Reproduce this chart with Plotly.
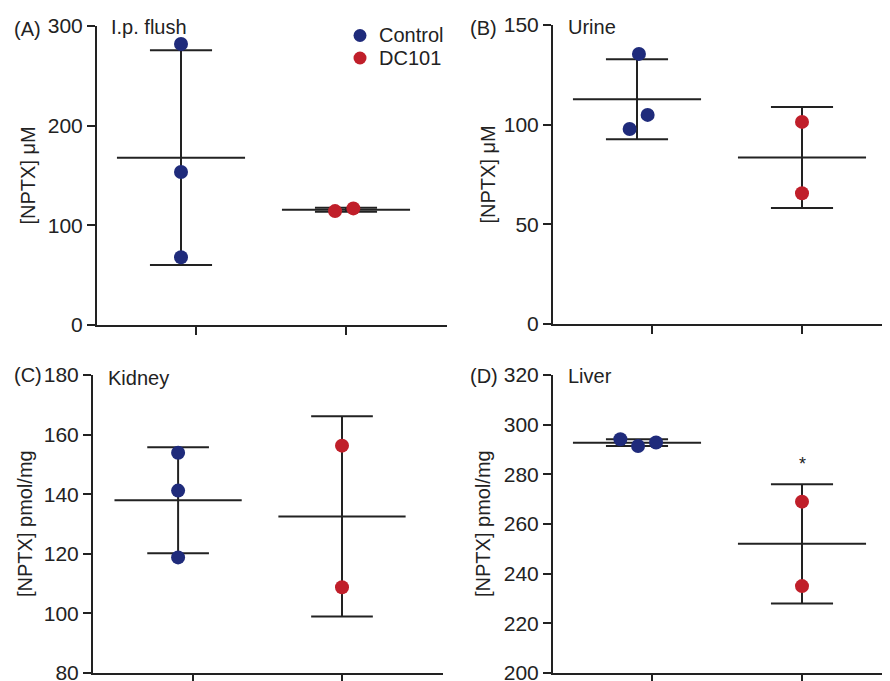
import numpy as np
import plotly.graph_objects as go

# ---------------- data ----------------
groups = ["Control", "DC101"]

flush_control = [282.0, 153.5, 68.0]
flush_dc101 = [114.3, 117.0]

urine_control = [135.5, 97.8, 104.9]
urine_dc101 = [101.4, 65.6]

kidney_control = [153.9, 141.2, 118.8]
kidney_dc101 = [156.3, 108.8]

liver_control = [294.1, 291.4, 292.8]
liver_dc101 = [269.0, 235.0]

yticks_flush = [0, 100, 200, 300]
yticks_urine = [0, 50, 100, 150]
yticks_kidney = [80, 100, 120, 140, 160, 180]
yticks_liver = [200, 220, 240, 260, 280, 300, 320]

# ---------------- style / layout constants ----------------
W, H = 890, 681
PAGE_OFF = 8  # page body margin of the browser
FONT = "Liberation Sans, Arial, Helvetica, sans-serif"
INK = "#222222"
COL = {"Control": "#1f2b7b", "DC101": "#c01f2a"}
GROUP_X = {"Control": 0.9, "DC101": 2.0}
MEAN_HALF = 0.427
CAP_HALF = 0.207
MSIZE = 14
TICK_FS = 21
TEXT_FS = 20
YTITLE_FS = 20

# per-panel point jitter (horizontal offsets only)
jitter = {
    "A": {"Control": [0, 0, 0], "DC101": [-0.073, 0.049]},
    "B": {"Control": [0.013, -0.049, 0.071], "DC101": [0, 0]},
    "C": {"Control": [0, 0, 0], "DC101": [0, 0]},
    "D": {"Control": [-0.111, 0.007, 0.127], "DC101": [0, 0]},
}

# geometry in page pixels of the target picture
panels = [
    dict(key="A", label="(A)", title="I.p. flush", ytitle="[NPTX] μM",
         data={"Control": flush_control, "DC101": flush_dc101},
         yt=yticks_flush, px_x=(97, 447), px_y=(26, 325), tick_px=(196, 346),
         lab_px=(12, 29), tit_px=(109, 27), ytit_x=27),
    dict(key="B", label="(B)", title="Urine", ytitle="[NPTX] μM",
         data={"Control": urine_control, "DC101": urine_dc101},
         yt=yticks_urine, px_x=(553, 898), px_y=(25, 324), tick_px=(652, 802),
         lab_px=(468, 28), tit_px=(566, 27), ytit_x=487),
    dict(key="C", label="(C)", title="Kidney", ytitle="[NPTX] pmol/mg",
         data={"Control": kidney_control, "DC101": kidney_dc101},
         yt=yticks_kidney, px_x=(93, 443), px_y=(375, 673), tick_px=(193, 342),
         lab_px=(12, 375), tit_px=(106, 378), ytit_x=25),
    dict(key="D", label="(D)", title="Liver", ytitle="[NPTX] pmol/mg",
         data={"Control": liver_control, "DC101": liver_dc101},
         yt=yticks_liver, px_x=(553, 898), px_y=(375, 673), tick_px=(652, 802),
         lab_px=(468, 376), tit_px=(566, 376), ytit_x=483),
]

fig = go.Figure()
annotations = []
shapes = []

def fx(x):
    return (x - PAGE_OFF) / W

def fy(y):
    return 1 - (y - PAGE_OFF) / H

for i, p in enumerate(panels):
    n = "" if i == 0 else str(i + 1)
    xref, yref = "x" + n, "y" + n
    t1, t2 = p["tick_px"]
    ppu = t2 - t1
    x0px, x1px = p["px_x"]
    xr = [1 - (t1 - x0px) / ppu, 2 + (x1px - t2) / ppu]
    yr = [min(p["yt"]), max(p["yt"])]

    for g in groups:
        vals = np.array(p["data"][g], dtype=float)
        m = vals.mean()
        sd = vals.std(ddof=1)
        cx = GROUP_X[g]
        lx = [cx - MEAN_HALF, cx + MEAN_HALF, None,
              cx, cx, None,
              cx - CAP_HALF, cx + CAP_HALF, None,
              cx - CAP_HALF, cx + CAP_HALF]
        ly = [m, m, None,
              m - sd, m + sd, None,
              m + sd, m + sd, None,
              m - sd, m - sd]
        fig.add_trace(go.Scatter(x=lx, y=ly, mode="lines", xaxis=xref, yaxis=yref,
                                 line=dict(color=INK, width=2), showlegend=False,
                                 hoverinfo="skip", cliponaxis=False))
    for g in groups:
        vals = p["data"][g]
        xs = [GROUP_X[g] + o for o in jitter[p["key"]][g]]
        fig.add_trace(go.Scatter(x=xs, y=vals, mode="markers", name=g,
                                 xaxis=xref, yaxis=yref, showlegend=False,
                                 marker=dict(color=COL[g], size=MSIZE, line=dict(width=0)),
                                 cliponaxis=False))

    xd = [max(0.0, fx(x0px)), min(1.0, fx(x1px))]
    yd = [fy(p["px_y"][1]), fy(p["px_y"][0])]
    axcommon = dict(showline=True, linewidth=2, linecolor=INK, ticks="outside",
                    ticklen=8, tickwidth=2, tickcolor=INK, showgrid=False,
                    zeroline=False, fixedrange=True, automargin=False)
    fig.layout["xaxis" + n] = dict(domain=xd, range=xr, anchor=yref,
                                   tickvals=[1, 2], showticklabels=False, **axcommon)
    fig.layout["yaxis" + n] = dict(domain=yd, range=yr, anchor=xref,
                                   tickvals=p["yt"], ticktext=[str(v) for v in p["yt"]],
                                   tickfont=dict(size=TICK_FS, color=INK, family=FONT),
                                   **axcommon)

    annotations.append(dict(text=p["label"], x=fx(p["lab_px"][0]), y=fy(p["lab_px"][1]),
                            xref="paper", yref="paper", xanchor="left", yanchor="middle",
                            showarrow=False, font=dict(size=TEXT_FS, color=INK, family=FONT)))
    annotations.append(dict(text=p["title"], x=fx(p["tit_px"][0]), y=fy(p["tit_px"][1]),
                            xref="paper", yref="paper", xanchor="left", yanchor="middle",
                            showarrow=False, font=dict(size=TEXT_FS, color=INK, family=FONT)))
    annotations.append(dict(text=p["ytitle"], x=fx(p["ytit_x"]), y=(yd[0] + yd[1]) / 2,
                            xref="paper", yref="paper", textangle=-90,
                            xanchor="center", yanchor="middle", showarrow=False,
                            font=dict(size=YTITLE_FS, color=INK, family=FONT)))

# significance asterisk on liver DC101
annotations.append(dict(text="*", x=GROUP_X["DC101"], y=284, xref="x4", yref="y4",
                        showarrow=False, xanchor="center", yanchor="middle",
                        font=dict(size=18, color=INK, family=FONT)))

# legend (drawn manually to match spacing)
for j, g in enumerate(groups):
    ypx = 35.5 + j * 22.5
    shapes.append(dict(type="circle", xref="paper", yref="paper",
                       xsizemode="pixel", ysizemode="pixel", xanchor=fx(360), yanchor=fy(ypx),
                       x0=-6.5, x1=6.5, y0=-6.5, y1=6.5,
                       fillcolor=COL[g], line=dict(width=0)))
    annotations.append(dict(text=g, x=fx(377), y=fy(ypx), xref="paper", yref="paper",
                            xanchor="left", yanchor="middle", showarrow=False,
                            font=dict(size=TEXT_FS, color=INK, family=FONT)))

fig.update_layout(width=W, height=H, margin=dict(l=0, r=0, t=0, b=0, autoexpand=False),
                  paper_bgcolor="white", plot_bgcolor="white",
                  annotations=annotations, shapes=shapes, showlegend=False,
                  font=dict(family=FONT, color=INK))

fig.write_html("out.html")
